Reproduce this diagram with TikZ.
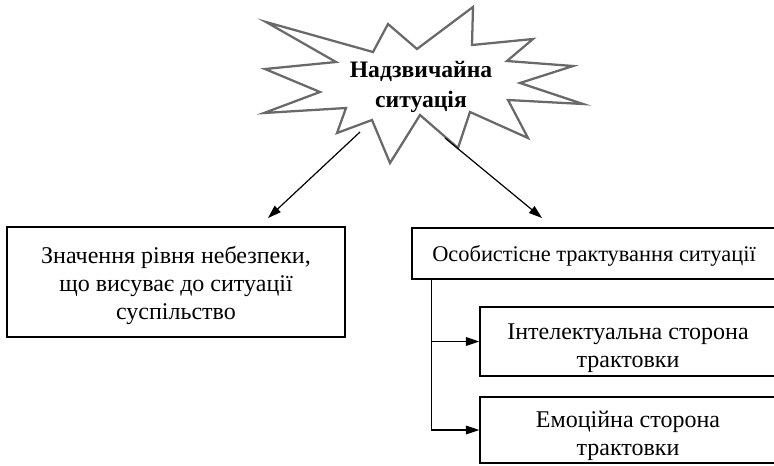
\documentclass[tikz,border=0pt]{standalone}
\usepackage{fontspec}
\setmainfont{Liberation Serif}
\usetikzlibrary{arrows.meta}

\newcommand{\padtop}[1]{\rule{0pt}{#1}}

\tikzset{
  box/.style={draw, line width=1.1pt, align=center, inner sep=0pt, font=\fontsize{18}{21}\selectfont},
  burst/.style={draw={rgb,255:red,105;green,105;blue,105}, line width=1.7pt, line join=miter},
  arr/.style={line width=0.9pt, -{Triangle[length=10pt,width=6.5pt]}}
}

\begin{document}
\begin{tikzpicture}[x=0.75pt,y=0.75pt,yscale=-1,xscale=1]
\useasboundingbox (0,0) rectangle (774,465);

%Shape: Starburst
\draw [burst] (266,22) -- (373,52) -- (388,24) -- (417,49) -- (473,7) -- (472,45)
  -- (533,39) -- (507,61) -- (573,66) -- (520,83) -- (583,104) -- (508,100)
  -- (528,138) -- (470,112) -- (458,148) -- (420,115) -- (390,163) -- (372,120)
  -- (337,133) -- (346,108) -- (264,113) -- (320,92) -- (265,69) -- (336,62) -- cycle ;
% Text Node
\node (title) at (421,87) [align=center, font=\fontsize{17.7}{22}\selectfont\bfseries] {Надзвичайна\\ситуація};

% Boxes
\node (norm) at (176,282) [box, minimum width=253.5pt, minimum height=82.5pt] {\padtop{18pt}Значення рівня небезпеки,\\що висуває до ситуації\\суспільство};
\node (pers) at (594,253.5) [box, minimum width=273pt, minimum height=38.25pt, font=\fontsize{16.8}{21}\selectfont] {\padtop{16pt}Особистісне трактування ситуації};
\node (intel) at (628,341.5) [box, minimum width=222pt, minimum height=51.75pt] {\padtop{22pt}Інтелектуальна сторона\\трактовки};
\node (emo) at (628,430) [box, minimum width=222pt, minimum height=49.5pt] {\padtop{21pt}Емоційна сторона\\трактовки};

%Straight Lines
\coordinate (sL) at (360,132);
\coordinate (sR) at (445,138);
\draw [arr] (sL) -- (268,218);
\draw [arr] (sR) -- (542,218);
\draw [arr] ([xshift=15pt]pers.south west) |- (intel.west);
\draw [arr] ([xshift=15pt]pers.south west) |- (emo.west);

\end{tikzpicture}
\end{document}
